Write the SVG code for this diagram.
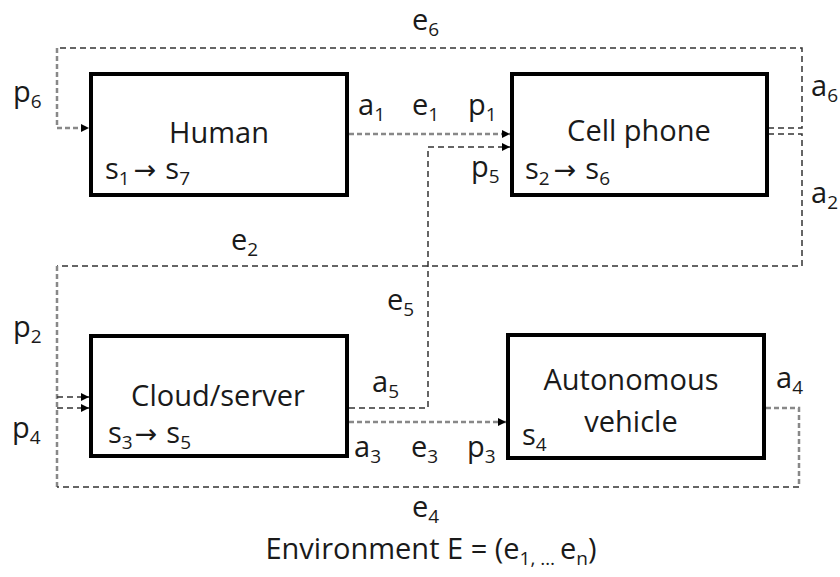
<svg xmlns="http://www.w3.org/2000/svg" width="840" height="577" viewBox="0 0 840 577">
  <style>
    .box { fill: #fff; stroke: #000; stroke-width: 4; }
    .t { font-family: "Open Sans", "Liberation Sans", sans-serif; font-size: 29px; fill: #1a1a1a; }
    .c { text-anchor: middle; }
    .sub { font-size: 19px; }
    .arr { font-family: "DejaVu Sans", sans-serif; font-size: 27px; }
    .dk { fill: none; stroke: #333; stroke-width: 1.5; stroke-dasharray: 6 4; }
    .gy { fill: none; stroke: #888; stroke-width: 2.5; stroke-dasharray: 5 3; }
  </style>
  <defs>
    <marker id="ah" viewBox="0 0 10 10" refX="10" refY="5" markerWidth="8" markerHeight="8" markerUnits="userSpaceOnUse" orient="auto">
      <path d="M0,0 L10,5 L0,10 Z" fill="#000"/>
    </marker>
  </defs>
  <rect width="840" height="577" fill="#fff"/>

  <g id="connectors">
    <!-- e6: a6 out of Cell phone, round the top, into Human -->
    <polyline class="dk" points="768,128 802,128 802,48 57,48"/>
    <polyline class="gy" points="57,48 57,128 89,128" marker-end="url(#ah)"/>
    <!-- e1: Human to Cell phone -->
    <line class="gy" x1="349" y1="134" x2="510" y2="134" marker-end="url(#ah)"/>
    <!-- e2: a2 out of Cell phone, round to Cloud/server -->
    <polyline class="dk" points="768,134 802,134 802,266 57,266"/>
    <line class="gy" x1="57" y1="266" x2="57" y2="487"/>
    <line class="dk" x1="57" y1="397" x2="89" y2="397" marker-end="url(#ah)"/>
    <!-- e5: Cloud/server to Cell phone -->
    <polyline class="dk" points="349,408 428,408 428,147 510,147" marker-end="url(#ah)"/>
    <!-- e3: Cloud/server to Autonomous vehicle -->
    <line class="gy" x1="349" y1="422" x2="506" y2="422" marker-end="url(#ah)"/>
    <!-- e4: Autonomous vehicle round the bottom to Cloud/server -->
    <polyline class="gy" points="766,408 799,408 799,487"/>
    <line class="dk" x1="799" y1="487" x2="57" y2="487"/>
    <line class="dk" x1="57" y1="408" x2="89" y2="408" marker-end="url(#ah)"/>
  </g>

  <g id="human">
    <rect class="box" x="91" y="74" width="256" height="121"/>
    <text class="t c" x="219" y="143">Human</text>
    <text class="t" x="105" y="179">s<tspan class="sub" dy="6">1</tspan><tspan class="arr" dy="-6" dx="4">→</tspan><tspan dx="9">s</tspan><tspan class="sub" dy="6">7</tspan></text>
  </g>

  <g id="cell-phone">
    <rect class="box" x="512" y="74" width="255" height="121"/>
    <text class="t c" x="639" y="141">Cell phone</text>
    <text class="t" x="525" y="179">s<tspan class="sub" dy="6">2</tspan><tspan class="arr" dy="-6" dx="4">→</tspan><tspan dx="9">s</tspan><tspan class="sub" dy="6">6</tspan></text>
  </g>

  <g id="cloud-server">
    <rect class="box" x="91" y="336" width="256" height="120"/>
    <text class="t c" x="218" y="406">Cloud/server</text>
    <text class="t" x="108" y="443">s<tspan class="sub" dy="6">3</tspan><tspan class="arr" dy="-6" dx="2">→</tspan><tspan dx="9">s</tspan><tspan class="sub" dy="6">5</tspan></text>
  </g>

  <g id="autonomous-vehicle">
    <rect class="box" x="508" y="335" width="256" height="123"/>
    <text class="t c" x="631" y="390">Autonomous</text>
    <text class="t c" x="631" y="432">vehicle</text>
    <text class="t" x="522" y="445">s<tspan class="sub" dy="6">4</tspan></text>
  </g>

  <g id="labels">
    <text class="t" x="412" y="30">e<tspan class="sub" dy="6">6</tspan></text>
    <text class="t" x="13" y="102">p<tspan class="sub" dy="6">6</tspan></text>
    <text class="t" x="811" y="96">a<tspan class="sub" dy="6">6</tspan></text>
    <text class="t" x="811" y="203">a<tspan class="sub" dy="6">2</tspan></text>
    <text class="t" x="358" y="115">a<tspan class="sub" dy="6">1</tspan></text>
    <text class="t" x="412" y="115">e<tspan class="sub" dy="6">1</tspan></text>
    <text class="t" x="468" y="115">p<tspan class="sub" dy="6">1</tspan></text>
    <text class="t" x="471" y="177">p<tspan class="sub" dy="6">5</tspan></text>
    <text class="t" x="231" y="250">e<tspan class="sub" dy="6">2</tspan></text>
    <text class="t" x="387" y="310">e<tspan class="sub" dy="6">5</tspan></text>
    <text class="t" x="13" y="337">p<tspan class="sub" dy="6">2</tspan></text>
    <text class="t" x="12" y="438">p<tspan class="sub" dy="6">4</tspan></text>
    <text class="t" x="372" y="392">a<tspan class="sub" dy="6">5</tspan></text>
    <text class="t" x="354" y="457">a<tspan class="sub" dy="6">3</tspan></text>
    <text class="t" x="411" y="457">e<tspan class="sub" dy="6">3</tspan></text>
    <text class="t" x="467" y="457">p<tspan class="sub" dy="6">3</tspan></text>
    <text class="t" x="776" y="388">a<tspan class="sub" dy="6">4</tspan></text>
    <text class="t" x="412" y="517">e<tspan class="sub" dy="6">4</tspan></text>
    <text class="t c" x="431" y="559">Environment E = (e<tspan class="sub" dy="6">1</tspan><tspan class="sub">, … </tspan><tspan dy="-6">e</tspan><tspan class="sub" dy="6">n</tspan><tspan dy="-6">)</tspan></text>
  </g>
</svg>
